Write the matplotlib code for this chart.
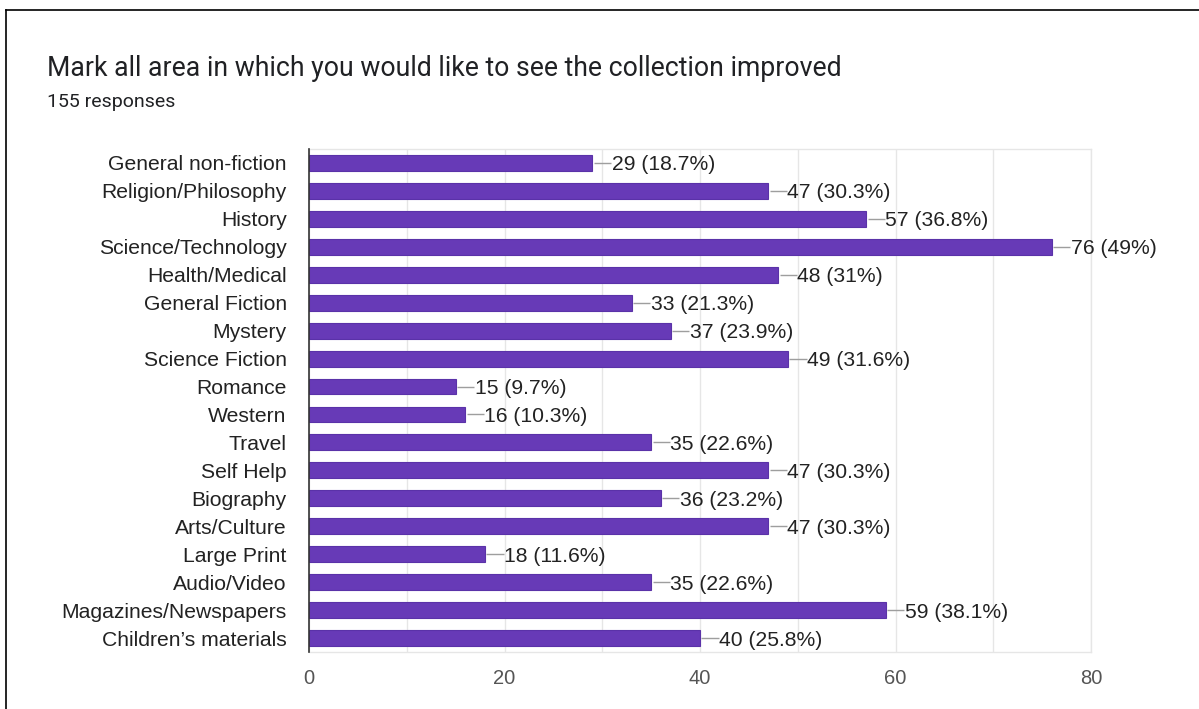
import matplotlib
matplotlib.use("Agg")
import matplotlib.pyplot as plt
from matplotlib.lines import Line2D

categories = [
    "General non-fiction", "Religion/Philosophy", "History", "Science/Technology",
    "Health/Medical", "General Fiction", "Mystery", "Science Fiction", "Romance",
    "Western", "Travel", "Self Help", "Biography", "Arts/Culture", "Large Print",
    "Audio/Video", "Magazines/Newspapers", "Children\u2019s materials",
]
counts = [29, 47, 57, 76, 48, 33, 37, 49, 15, 16, 35, 47, 36, 47, 18, 35, 59, 40]
percents = ["18.7%", "30.3%", "36.8%", "49%", "31%", "21.3%", "23.9%", "31.6%", "9.7%",
            "10.3%", "22.6%", "30.3%", "23.2%", "30.3%", "11.6%", "22.6%", "38.1%", "25.8%"]
xticks = [0, 20, 40, 60, 80]
title = "Mark all area in which you would like to see the collection improved"
subtitle = "155 responses"

plt.rcParams['font.family'] = ['Liberation Sans', 'DejaVu Sans']

fig = plt.figure(figsize=(11.99, 7.09), dpi=100)
ax = fig.add_axes([309/1199, 1-652/709, (1091-309)/1199, (652-149)/709])

ypos = list(range(len(categories)))
ax.barh(ypos, counts, height=0.57, color="#673ab7", edgecolor="#5a32a8", linewidth=0.8, zorder=3)

for y, c, p in zip(ypos, counts, percents):
    ax.plot([c + 0.15, c + 1.9], [y, y], color="#9e9e9e", lw=1.0, zorder=3, solid_capstyle='butt')
    ax.text(c + 1.95, y, f"{c} ({p})", ha="left", va="center_baseline", fontsize=15.2,
            color="#222222", zorder=4)

ax.set_xlim(0, 80)
ax.set_ylim(len(categories) - 0.5, -0.5)
ax.set_yticks(ypos)
ax.set_yticklabels(categories, fontsize=15.2, color="#222222", va="center_baseline")
ax.set_xticks(xticks)
ax.set_xticklabels([str(t) for t in xticks], fontsize=14.5, color="#555555")
ax.set_xticks(range(0, 81, 10), minor=True)
ax.grid(axis="x", which="both", color="#e6e6e6", lw=1.0, zorder=0)
ax.tick_params(axis="both", which="both", length=0)
ax.tick_params(axis="y", pad=16)
ax.tick_params(axis="x", pad=12)

for s in ["top", "right", "bottom"]:
    ax.spines[s].set_color("#e6e6e6")
    ax.spines[s].set_linewidth(1.0)
ax.spines["left"].set_color("#333333")
ax.spines["left"].set_linewidth(1.2)
ax.spines["left"].set_zorder(5)

fig.text(47/1199, 1-69/709, title, fontsize=19.2, color="#202124", ha="left", va="center",
         family=["Roboto", "DejaVu Sans"])
fig.text(47/1199, 1-102/709, subtitle, fontsize=14, color="#202124", ha="left", va="center",
         family=["Roboto", "DejaVu Sans"])

fig.add_artist(Line2D([6/1199, 1], [1-10/709, 1-10/709], color="black", lw=1.2, transform=fig.transFigure))
fig.add_artist(Line2D([6/1199, 6/1199], [0, 1-10/709], color="black", lw=1.2, transform=fig.transFigure))

fig.savefig("out.png", dpi=100, facecolor="white")
